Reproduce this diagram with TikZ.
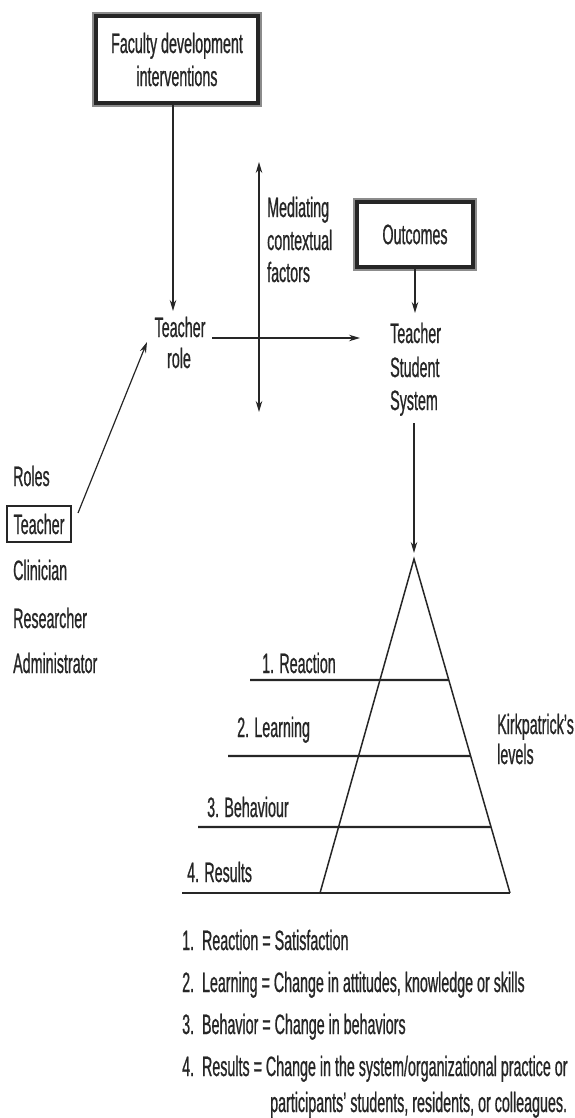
\documentclass[tikz,border=0pt]{standalone}
\usepackage{fontspec}
\setmainfont{Liberation Sans}[FakeStretch=0.51,FakeBold=0.7]
\usetikzlibrary{arrows.meta,calc}
\definecolor{ink}{HTML}{262626}
\definecolor{rim}{HTML}{8C8C8C}

\begin{document}
\begin{tikzpicture}[x=1pt,y=-1pt,
  every node/.style={text=ink, font=\fontsize{28}{33}\selectfont, inner sep=0pt},
  arr/.style={draw=ink, line width=1.2pt, -{Stealth[length=11pt,width=6.5pt]}},
  darr/.style={draw=ink, line width=1.2pt, {Stealth[length=11pt,width=6.5pt]}-{Stealth[length=11pt,width=6.5pt]}},
  heavybox/.style={draw=ink, line width=4pt, fill=white, align=center,
    preaction={draw=rim, line width=8pt}},
  rolebox/.style={draw=ink, line width=1.3pt, minimum width=64pt, minimum height=36pt},
  levelrule/.style={draw=ink, line width=2.2pt},
  pyr/.style={draw=ink, line width=1.5pt, line join=miter},
]
\useasboundingbox (0,0) rectangle (575,1118);

% framed boxes
\node[heavybox, minimum width=162pt, minimum height=87pt] (fac) at (177,59.5)
  {Faculty development\\interventions};
\node[heavybox, minimum width=116pt, minimum height=65pt] (out) at (415,234.5)
  {Outcomes};

% teacher role
\node[anchor=base] (tr1) at (180,337) {Teacher};
\node[anchor=base] (tr2) at (179,368) {role};

% mediating factors
\node[anchor=base west] (med1) at (267,217) {Mediating};
\node[anchor=base west] (med2) at (267,250) {contextual};
\node[anchor=base west] (med3) at (267,282) {factors};

% teacher student system
\node[anchor=base west] (tss1) at (390,343) {Teacher};
\node[anchor=base west] (tss2) at (390,377) {Student};
\node[anchor=base west] (tss3) at (390,410) {System};

% roles list
\node[anchor=base west] (roles) at (13,486) {Roles};
\node[rolebox] (rteach) at (39,524) {Teacher};
\node[anchor=base west] (clin) at (13,580) {Clinician};
\node[anchor=base west] (res) at (13,628) {Researcher};
\node[anchor=base west] (adm) at (13,673) {Administrator};

% connector end points
\coordinate (trin) at (173,311);
\coordinate (trout) at (212,338);
\coordinate (tssin) at (360,338);
\coordinate (medtop) at (259,162);
\coordinate (medbot) at (259,412);
\coordinate (tsstop) at (415,313);
\coordinate (tssbot) at (414,423);
\coordinate (apextip) at (414,553);
\coordinate (rolestart) at (78,513);
\coordinate (roleend) at (147,342);

% connectors
\draw[arr] (fac.south -| trin) -- (trin);
\draw[arr] (trout) -- (tssin);
\draw[darr] (medtop) -- (medbot);
\draw[arr] (out.south -| tsstop) -- (tsstop);
\draw[arr] (tssbot) -- (apextip);
\draw[arr] (rolestart) -- (roleend);

% Kirkpatrick pyramid
\coordinate (apex) at (414,559);
\coordinate (bl) at (320,893);
\coordinate (br) at (510,893);
\draw[pyr] (bl) -- (apex) -- (br);
\draw[levelrule] (250,680) -- ($(apex)!0.3623!(br)$);
\draw[levelrule] (228,756) -- ($(apex)!0.5898!(br)$);
\draw[levelrule] (198,827) -- ($(apex)!0.8024!(br)$);
\draw[levelrule] (182,893) -- (br);

\node[anchor=base west] (lv1) at (262,673) {1. Reaction};
\node[anchor=base west] (lv2) at (237,737) {2. Learning};
\node[anchor=base west] (lv3) at (207,817) {3. Behaviour};
\node[anchor=base west] (lv4) at (187,882) {4. Results};

\node[anchor=base west] (kp1) at (497,734) {Kirkpatrick's};
\node[anchor=base west] (kp2) at (497,764) {levels};

% legend
\node[anchor=base west] (key1) at (182,950) {1.\ \ Reaction = Satisfaction};
\node[anchor=base west] (key2) at (182,992) {2.\ \ Learning = Change in attitudes, knowledge or skills};
\node[anchor=base west] (key3) at (182,1034) {3.\ \ Behavior = Change in behaviors};
\node[anchor=base west] (key4) at (182,1076) {4.\ \ Results = Change in the system/organizational practice or};
\node[anchor=base west] (key5) at (270,1112) {participants' students, residents, or colleagues.};
\end{tikzpicture}
\end{document}
